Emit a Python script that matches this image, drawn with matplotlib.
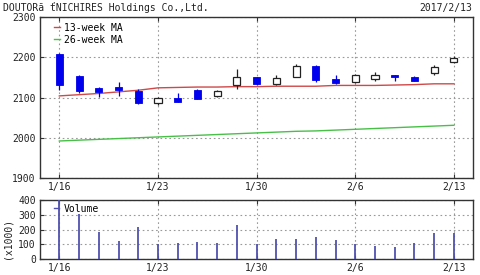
import matplotlib
matplotlib.use("Agg")
import matplotlib.pyplot as plt
from matplotlib.lines import Line2D

dates = ["1/16","1/17","1/18","1/19","1/20","1/23","1/24","1/25","1/26","1/27",
         "1/30","1/31","2/1","2/2","2/3","2/6","2/7","2/8","2/9","2/10","2/13"]
opens  = [2209,2154,2124,2126,2117,2087,2098,2118,2104,2132,
          2151,2134,2152,2179,2145,2139,2146,2155,2152,2160,2188]
closes = [2132,2117,2114,2118,2087,2098,2090,2097,2115,2150,
          2134,2148,2179,2144,2136,2155,2157,2152,2141,2176,2199]
highs  = [2210,2156,2127,2138,2120,2102,2110,2120,2118,2171,
          2152,2155,2182,2181,2157,2159,2163,2155,2153,2180,2203]
lows   = [2118,2110,2102,2104,2085,2082,2090,2097,2102,2121,
          2132,2131,2150,2139,2134,2136,2142,2141,2140,2155,2186]
ma13 = [2104,2107,2110,2114,2118,2124,2125,2126,2126,2127,
        2127,2128,2128,2128,2130,2130,2130,2131,2132,2134,2134]
ma26 = [1992,1994,1996,1998,2000,2002,2004,2006,2008,2010,
        2012,2014,2016,2017,2019,2021,2023,2025,2027,2029,2031]
volume = [400,305,181,124,215,102,106,113,106,230,
          99,133,138,149,127,99,88,81,106,174,179]
tick_labels = ["1/16","1/23","1/30","2/6","2/13"]
price_ticks = [1900,2000,2100,2200,2300]
vol_ticks = [0,100,200,300,400]

plt.rcParams['font.family'] = ['DejaVu Sans Mono', 'DejaVu Sans']
fig = plt.figure(figsize=(4.8, 2.75), dpi=100)
ax = fig.add_axes([40/480, 1-178/275, 433/480, 161/275])
axv = fig.add_axes([40/480, 1-259/275, 433/480, 59/275])

x = list(range(len(dates)))
tick_pos = [dates.index(t) for t in tick_labels]
up_col = 'white'
dn_col = '#0000ee'
w = 0.36
for i in x:
    o, c, h, l = opens[i], closes[i], highs[i], lows[i]
    if c >= o:
        ec = '#222222'
        ax.vlines(i, l, h, color=ec, lw=0.9, zorder=3)
        ax.bar(i, max(c-o, 0.8), w, bottom=o, facecolor='white', edgecolor=ec, lw=0.9, zorder=4)
    else:
        ax.vlines(i, l, h, color=dn_col, lw=0.9, zorder=3)
        ax.bar(i, o-c, w, bottom=c, facecolor=dn_col, edgecolor=dn_col, lw=0.6, zorder=4)

ax.plot(x, ma13, color='#d04848', lw=1.0, zorder=2)
ax.plot(x, ma26, color='#48c048', lw=1.0, zorder=2)

for a in (ax, axv):
    a.set_xlim(-0.98, 20.97)
    a.set_xticks(tick_pos)
    a.set_xticklabels(tick_labels)
    a.tick_params(axis='both', labelsize=7, colors='#333333', length=3, width=0.8, direction='in', pad=3)
    a.tick_params(axis='x', top=True)
    a.grid(True, linestyle=(0, (1.5, 2.5)), color='#999999', lw=0.8)
    for s in a.spines.values():
        s.set_color('#333333')
        s.set_linewidth(1.0)
    for lab in a.get_xticklabels() + a.get_yticklabels():
        lab.set_color('#222222')

ax.set_ylim(1900, 2300)
ax.set_yticks(price_ticks)
axv.set_ylim(0, 400)
axv.set_yticks(vol_ticks)

axv.vlines(x, 0, volume, color='#5050b0', lw=1.3, zorder=3)

h1 = Line2D([], [], color='#d04848', lw=1.0)
h2 = Line2D([], [], color='#48c048', lw=1.0)
leg = ax.legend([h1, h2], ['13-week MA', '26-week MA'], loc='upper left',
                frameon=False, fontsize=7, handlelength=0.6, handletextpad=0.4,
                borderaxespad=0.2, labelspacing=0.2, bbox_to_anchor=(0.02, 1.0))
hv = Line2D([], [], color='#5050b0', lw=1.0)
axv.legend([hv], ['Volume'], loc='upper left', frameon=False, fontsize=7,
           handlelength=0.6, handletextpad=0.4, borderaxespad=0.1,
           bbox_to_anchor=(0.02, 1.02))

fig.text(3/480, 1-8/275, 'DOUTORã ťNICHIRES Holdings Co.,Ltd.', fontsize=7,
         ha='left', va='center', color='#222222')
fig.text(472/480, 1-8/275, '2017/2/13', fontsize=7, ha='right', va='center', color='#222222')
fig.text(8/480, 1-238/275, '(x1000)', fontsize=7, rotation=90, ha='center', va='center', color='#222222')

fig.savefig('out.png', dpi=100)
